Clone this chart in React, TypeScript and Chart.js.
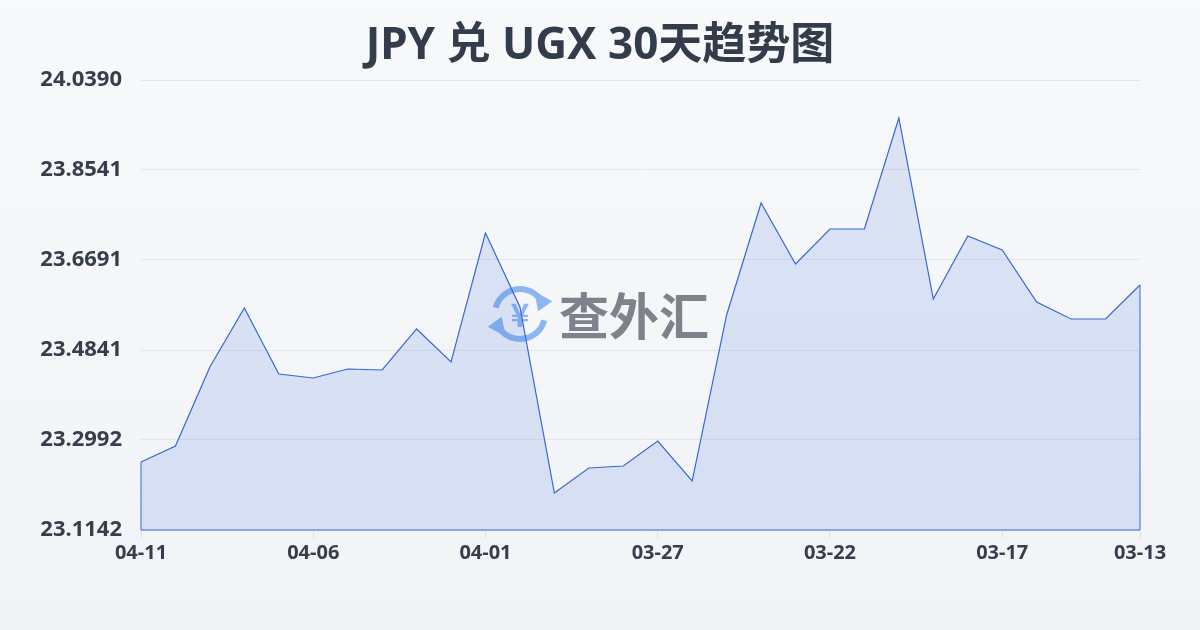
import React, { useEffect, useRef } from "react";
import { Chart, registerables } from "chart.js";

Chart.register(...registerables);

const titleText = "JPY 兑 UGX 30天趋势图";
const dates = [
  "04-11", "04-10", "04-09", "04-08", "04-07", "04-06", "04-05", "04-04", "04-03", "04-02",
  "04-01", "03-31", "03-30", "03-29", "03-28", "03-27", "03-26", "03-25", "03-24", "03-23",
  "03-22", "03-21", "03-20", "03-19", "03-18", "03-17", "03-16", "03-15", "03-14", "03-13",
];
const rates = [
  23.254, 23.2868, 23.4492, 23.5704, 23.4348, 23.4266, 23.4451, 23.443, 23.5273, 23.4595,
  23.7246, 23.5725, 23.1902, 23.2416, 23.2457, 23.2971, 23.2149, 23.5561, 23.7862, 23.6609,
  23.7328, 23.7328, 23.9609, 23.5889, 23.7184, 23.6896, 23.5828, 23.5478, 23.5478, 23.6177,
];
const yTickValues = [23.1142, 23.2992, 23.4841, 23.6691, 23.8541, 24.039];
const xTickIndexes = [0, 5, 10, 15, 20, 25, 29];

const LINE = "#3767d4";
const FILL = "rgba(58,107,214,0.15)";
const TEXT = "#363e4c";

const bgPlugin = {
  id: "bgPlugin",
  beforeDraw(chart: any) {
    const { ctx, width, height } = chart;
    const g = ctx.createLinearGradient(0, 0, 0, height);
    g.addColorStop(0, "#f8f9fb");
    g.addColorStop(1, "#f1f3f6");
    ctx.save();
    ctx.fillStyle = g;
    ctx.fillRect(0, 0, width, height);
    ctx.restore();
  },
};

const titlePlugin = {
  id: "titlePlugin",
  afterDraw(chart: any) {
    const { ctx, width } = chart;
    ctx.save();
    ctx.fillStyle = "#333c4b";
    ctx.font = "bold 44px 'Noto Sans', 'Noto Sans CJK SC', sans-serif";
    ctx.textAlign = "center";
    ctx.textBaseline = "middle";
    ctx.fillText(titleText, width / 2, 46);
    ctx.restore();
  },
};

const watermarkPlugin = {
  id: "watermarkPlugin",
  beforeDatasetsDraw(chart: any) {
    const { ctx } = chart;
    const cx = 520;
    const cy = 314;
    const r = 25;
    ctx.save();
    ctx.strokeStyle = "#8db5f2";
    ctx.fillStyle = "#8db5f2";
    ctx.lineWidth = 6;
    ctx.beginPath();
    ctx.arc(cx, cy, r, Math.PI * 1.08, Math.PI * 1.8);
    ctx.stroke();
    const a1 = Math.PI * 1.8;
    const ax = cx + r * Math.cos(a1);
    const ay = cy + r * Math.sin(a1);
    ctx.beginPath();
    ctx.moveTo(ax + 12, ay + 2);
    ctx.lineTo(ax - 6, ay - 8);
    ctx.lineTo(ax - 2, ay + 12);
    ctx.closePath();
    ctx.fill();
    ctx.beginPath();
    ctx.arc(cx, cy, r, Math.PI * 0.08, Math.PI * 0.8);
    ctx.stroke();
    const a2 = Math.PI * 0.8;
    const bx = cx + r * Math.cos(a2);
    const by = cy + r * Math.sin(a2);
    ctx.beginPath();
    ctx.moveTo(bx - 12, by - 2);
    ctx.lineTo(bx + 6, by + 8);
    ctx.lineTo(bx + 2, by - 12);
    ctx.closePath();
    ctx.fill();
    ctx.font = "bold 32px 'Noto Sans CJK SC', sans-serif";
    ctx.textAlign = "center";
    ctx.textBaseline = "middle";
    ctx.fillText("¥", cx, cy + 1);
    ctx.fillStyle = "#7e828b";
    ctx.font = "bold 50px 'Noto Sans CJK SC', sans-serif";
    ctx.textAlign = "left";
    ctx.fillText("查外汇", 559, cy + 2);
    ctx.restore();
  },
};

const edgePlugin = {
  id: "edgePlugin",
  afterDatasetsDraw(chart: any) {
    const meta = chart.getDatasetMeta(0);
    const pts = meta.data;
    if (!pts.length) return;
    const { ctx, chartArea } = chart;
    const first = pts[0];
    const last = pts[pts.length - 1];
    ctx.save();
    ctx.strokeStyle = LINE;
    ctx.lineWidth = 1;
    ctx.beginPath();
    ctx.moveTo(first.x, first.y);
    ctx.lineTo(first.x, chartArea.bottom);
    ctx.lineTo(last.x, chartArea.bottom);
    ctx.lineTo(last.x, last.y);
    ctx.stroke();
    ctx.restore();
  },
};

export default function App() {
  const ref = useRef<HTMLCanvasElement | null>(null);

  useEffect(() => {
    if (!ref.current) return;
    const chart = new Chart(ref.current, {
      type: "line",
      data: {
        labels: dates,
        datasets: [
          {
            data: rates,
            borderColor: LINE,
            borderWidth: 1.2,
            backgroundColor: FILL,
            fill: "start",
            pointRadius: 0,
            tension: 0,
          },
        ],
      },
      options: {
        animation: false,
        responsive: true,
        maintainAspectRatio: false,
        layout: { padding: { top: 80, right: 60, bottom: 0, left: 0 } },
        plugins: {
          legend: { display: false },
          title: { display: false },
          tooltip: { enabled: false },
        },
        scales: {
          x: {
            type: "category",
            offset: false,
            afterBuildTicks: (scale: any) => {
              scale.ticks = xTickIndexes.map((v) => ({ value: v }));
            },
            afterFit: (scale: any) => {
              scale.height = 100;
            },
            grid: {
              drawOnChartArea: false,
              drawTicks: true,
              tickLength: 8,
              color: "#dde1e6",
            },
            border: { display: false },
            ticks: {
              autoSkip: false,
              maxRotation: 0,
              padding: 3,
              color: TEXT,
              font: { family: "'Noto Sans', sans-serif", size: 20, weight: "bold" },
              callback: function (this: any, value: any) {
                return dates[value as number];
              },
            },
          },
          y: {
            min: yTickValues[0],
            max: yTickValues[yTickValues.length - 1],
            afterBuildTicks: (scale: any) => {
              scale.ticks = yTickValues.map((v) => ({ value: v }));
            },
            afterFit: (scale: any) => {
              scale.width = 141;
            },
            grid: { color: "#e3e6ea", drawTicks: false },
            border: { display: false },
            ticks: {
              padding: 19,
              color: TEXT,
              font: { family: "'Noto Sans', sans-serif", size: 22, weight: "bold" },
              callback: (value: any) => Number(value).toFixed(4),
            },
          },
        },
      },
      plugins: [bgPlugin, watermarkPlugin, edgePlugin, titlePlugin],
    });
    return () => chart.destroy();
  }, []);

  return (
    <div style={{ position: "fixed", left: 0, top: 0, width: 1200, height: 630 }}>
      <canvas ref={ref} />
    </div>
  );
}
